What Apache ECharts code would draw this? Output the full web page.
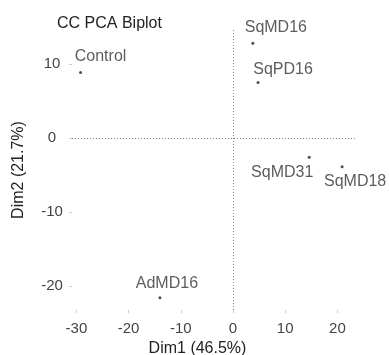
<!DOCTYPE html>
<html>
<head>
<meta charset="utf-8">
<script src="https://cdn.jsdelivr.net/npm/echarts@6/dist/echarts.min.js"></script>
<style>html,body{margin:0;padding:0;background:#fff;}#c{width:389px;height:355px;}</style>
</head>
<body>
<div id="c"></div>
<script>
const samples = ['Control', 'SqMD16', 'SqPD16', 'SqMD31', 'SqMD18', 'AdMD16'];
const dim1 = [-29.2, 3.8, 4.8, 14.6, 20.9, -14.0];
const dim2 = [8.85, 12.8, 7.5, -2.6, -3.9, -21.6];
const xTicks = [-30, -20, -10, 0, 10, 20];
const yTicks = [-20, -10, 0, 10];

// label placement (repel-like offsets, styling only)
const labelShift = {
  Control: [20, -16], SqMD16: [23, -16], SqPD16: [25, -13],
  SqMD31: [-27, 15], SqMD18: [13, 15], AdMD16: [7, -14]
};

const font = 'Liberation Sans, Arial, sans-serif';
const chart = echarts.init(document.getElementById('c'), null, {renderer: 'canvas'});
const data = samples.map((s, i) => ({
  name: s,
  value: [dim1[i], dim2[i]],
  label: {offset: labelShift[s]}
}));

chart.setOption({
  animation: false,
  backgroundColor: '#fff',
  title: {
    text: 'CC PCA Biplot', left: 52, top: 11,
    textStyle: {fontFamily: font, fontSize: 16, fontWeight: 'normal', color: '#222'}
  },
  grid: {left: 72, right: 34, top: 30, bottom: 45, containLabel: false, outerBoundsMode: 'none'},
  xAxis: {
    type: 'value', min: -30.84, max: 23.37,
    name: 'Dim1 (46.5%)', nameLocation: 'middle', nameGap: 31,
    nameTextStyle: {fontFamily: font, fontSize: 16, color: '#222', padding: [0, 32, 0, 0]},
    axisLine: {show: false, onZero: false},
    splitLine: {show: false},
    axisTick: {show: true, length: 3, customValues: xTicks, lineStyle: {color: '#ccc'}},
    axisLabel: {customValues: xTicks, fontFamily: font, fontSize: 15, color: '#444', margin: 11}
  },
  yAxis: {
    type: 'value', min: -23.24, max: 14.59,
    name: 'Dim2 (21.7%)', nameLocation: 'middle', nameGap: 45,
    nameTextStyle: {fontFamily: font, fontSize: 16, color: '#222'},
    axisLine: {show: false, onZero: false},
    splitLine: {show: false},
    axisTick: {show: true, length: 3, customValues: yTicks, lineStyle: {color: '#ccc'}},
    axisLabel: {customValues: yTicks, fontFamily: font, fontSize: 15, color: '#444', margin: 20, align: 'center'}
  },
  series: [{
    type: 'scatter',
    symbolSize: 3,
    itemStyle: {color: '#222'},
    data: data,
    label: {
      show: true, position: 'inside',
      formatter: p => p.name,
      fontFamily: font, fontSize: 16, color: '#333'
    },
    markLine: {
      silent: true, symbol: 'none',
      label: {show: false},
      lineStyle: {type: [1, 2], color: '#888', width: 1},
      data: [{xAxis: 0}, {yAxis: 0}]
    }
  }]
});
</script>
</body>
</html>
